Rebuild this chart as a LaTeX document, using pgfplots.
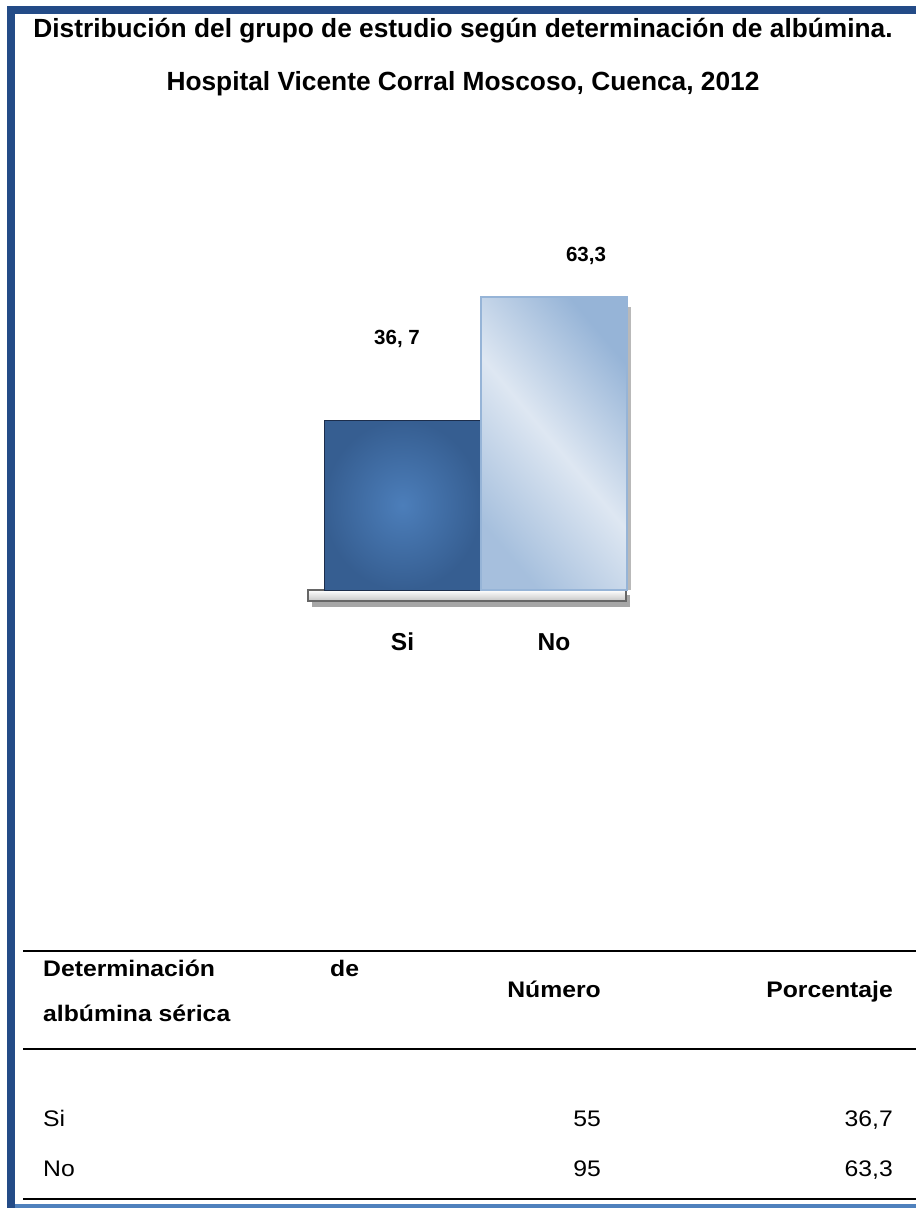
\documentclass[border=0pt]{standalone}
\usepackage{pgfplots}
\pgfplotsset{compat=1.18}
\usepackage{fontspec}
\setmainfont{Liberation Sans}
\newfontfamily\titlefont{Liberation Sans}
\newfontfamily\tabfont{Liberation Sans}[FakeStretch=1.1]
\definecolor{band}{RGB}{35,75,135}
\definecolor{lightband}{RGB}{79,129,189}
\definecolor{siin}{RGB}{76,126,186}
\definecolor{siout}{RGB}{54,94,145}
\definecolor{siedge}{RGB}{28,45,75}
\definecolor{nolight}{RGB}{222,231,242}
\definecolor{nodark}{RGB}{150,180,215}
\begin{document}
\begin{tikzpicture}[x=1pt,y=-1pt]
\path (0,0) rectangle (916,1208);
% frame
\fill[band] (7,6) rectangle (916,14);
\fill[band] (7,6) rectangle (15,1208);
\fill[lightband] (15,1204) rectangle (916,1208);
% title
\node[font=\titlefont\bfseries\fontsize{26.3}{30}\selectfont,anchor=base] at (463,37) {Distribución del grupo de estudio según determinación de albúmina.};
\node[font=\titlefont\bfseries\fontsize{26.3}{30}\selectfont,anchor=base] at (463,90) {Hospital Vicente Corral Moscoso, Cuenca, 2012};
% floor shadow and floor, bar shadow
\fill[gray!70] (312,595) rectangle (630,607);
\fill[gray!55] (627,307) rectangle (631,590);
\shade[top color=white,bottom color=gray!45,draw=black!60,line width=1.5pt] (308,590) rectangle (626,601);
\begin{axis}[
  at={(324pt,-590pt)}, anchor=south west,
  scale only axis, width=303pt, height=324pt,
  xmin=324, xmax=627, ymin=0, ymax=70,
  axis line style={draw=none}, tick style={draw=none},
  ytick=\empty, xtick={402.5,554}, xticklabels={Si,No},
  xticklabel style={font=\bfseries\fontsize{24.5}{28}\selectfont, anchor=base, yshift=-56pt},
  ybar, bar shift=0pt, clip=false,
]
\addplot[bar width=157, draw=siedge, line width=1pt, inner color=siin, outer color=siout] coordinates {(402.5,36.7)};
\addplot[bar width=146, draw=nodark, line width=1.5pt, left color=nodark, right color=nodark!85!white, middle color=nolight, shading angle=-50] coordinates {(554,63.3)};
\node[font=\bfseries\fontsize{20.5}{24}\selectfont] at (axis cs:397,54.3) {36, 7};
\node[font=\bfseries\fontsize{20.5}{24}\selectfont] at (axis cs:586,72.2) {63,3};
\end{axis}
% table
\draw[line width=2.5pt] (23,951) -- (916,951);
\draw[line width=2.5pt] (23,1049) -- (916,1049);
\draw[line width=2.5pt] (23,1199) -- (916,1199);
\begin{scope}[every node/.style={inner sep=0pt}]
\node[font=\tabfont\bfseries\fontsize{22.5}{26}\selectfont,anchor=base west] at (43,976) {Determinación};
\node[font=\tabfont\bfseries\fontsize{22.5}{26}\selectfont,anchor=base west] at (330,976) {de};
\node[font=\tabfont\bfseries\fontsize{22.5}{26}\selectfont,anchor=base west] at (43,1021) {albúmina sérica};
\node[font=\tabfont\bfseries\fontsize{22.5}{26}\selectfont,anchor=base east] at (601,997) {Número};
\node[font=\tabfont\bfseries\fontsize{22.5}{26}\selectfont,anchor=base east] at (893,997) {Porcentaje};
\node[font=\tabfont\fontsize{22.5}{26}\selectfont,anchor=base west] at (43,1126) {Si};
\node[font=\tabfont\fontsize{22.5}{26}\selectfont,anchor=base east] at (601,1126) {55};
\node[font=\tabfont\fontsize{22.5}{26}\selectfont,anchor=base east] at (893,1126) {36,7};
\node[font=\tabfont\fontsize{22.5}{26}\selectfont,anchor=base west] at (43,1176) {No};
\node[font=\tabfont\fontsize{22.5}{26}\selectfont,anchor=base east] at (601,1176) {95};
\node[font=\tabfont\fontsize{22.5}{26}\selectfont,anchor=base east] at (893,1176) {63,3};
\end{scope}
\end{tikzpicture}
\end{document}
